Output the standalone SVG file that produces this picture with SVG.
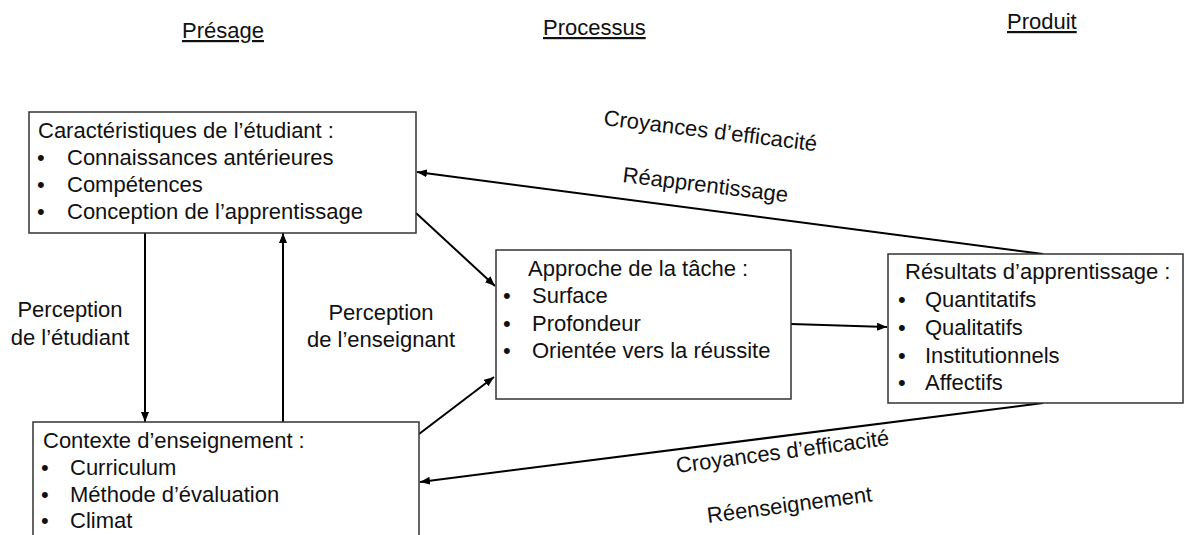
<svg xmlns="http://www.w3.org/2000/svg" width="1186" height="535" viewBox="0 0 1186 535">
<style>
text{font-family:"Liberation Sans",Arial,sans-serif;font-size:22px;fill:#111}
.box{fill:#fff;stroke:#333;stroke-width:1.5}
.head{text-decoration:underline}
.conn{stroke:#000;stroke-width:2;fill:none}
</style>
<defs>
<marker id="arr" markerUnits="userSpaceOnUse" markerWidth="10" markerHeight="8" refX="10" refY="4" orient="auto">
<path d="M0,0 L10,4 L0,8 z" fill="#000"/>
</marker>
</defs>
<rect width="1186" height="535" fill="#fff"/>
<g id="headings">
<text class="head" x="182" y="38">Présage</text>
<text class="head" x="543" y="35">Processus</text>
<text class="head" x="1007" y="29">Produit</text>
</g>
<g id="connectors">
<line class="conn" x1="145" y1="233" x2="145" y2="422" marker-end="url(#arr)"/>
<line class="conn" x1="283" y1="422" x2="283" y2="233" marker-end="url(#arr)"/>
<line class="conn" x1="416" y1="213" x2="495" y2="286" marker-end="url(#arr)"/>
<line class="conn" x1="419" y1="434" x2="494" y2="377" marker-end="url(#arr)"/>
<line class="conn" x1="791" y1="324" x2="887" y2="327" marker-end="url(#arr)"/>
<line class="conn" x1="1043" y1="254" x2="417" y2="172" marker-end="url(#arr)"/>
<line class="conn" x1="1043" y1="403" x2="420" y2="482" marker-end="url(#arr)"/>
<text transform="translate(603,125) rotate(7)">Croyances d’efficacité</text>
<text transform="translate(622,182) rotate(7)">Réapprentissage</text>
<text transform="translate(677,473) rotate(-7.5)">Croyances d’efficacité</text>
<text transform="translate(708,523) rotate(-7.5)">Réenseignement</text>
<text x="70" y="317" text-anchor="middle">Perception</text>
<text x="70" y="345" text-anchor="middle">de l’étudiant</text>
<text x="381" y="320" text-anchor="middle">Perception</text>
<text x="381" y="347" text-anchor="middle">de l’enseignant</text>
</g>
<g id="etudiant">
<rect class="box" x="29" y="112" width="387" height="121"/>
<text x="38" y="138">Caractéristiques de l’étudiant :</text>
<text x="37" y="165">•</text><text x="67" y="165">Connaissances antérieures</text>
<text x="37" y="192">•</text><text x="67" y="192">Compétences</text>
<text x="37" y="219">•</text><text x="67" y="219">Conception de l’apprentissage</text>
</g>
<g id="contexte">
<rect class="box" x="33" y="422" width="386" height="130"/>
<text x="43" y="448">Contexte d’enseignement :</text>
<text x="41" y="475">•</text><text x="70" y="475">Curriculum</text>
<text x="41" y="502">•</text><text x="70" y="502">Méthode d’évaluation</text>
<text x="41" y="528">•</text><text x="70" y="528">Climat</text>
</g>
<g id="approche">
<rect class="box" x="496" y="250" width="295" height="149"/>
<text x="528" y="276">Approche de la tâche :</text>
<text x="503" y="303">•</text><text x="532" y="303">Surface</text>
<text x="503" y="331">•</text><text x="532" y="331">Profondeur</text>
<text x="503" y="358">•</text><text x="532" y="358">Orientée vers la réussite</text>
</g>
<g id="resultats">
<rect class="box" x="888" y="254" width="295" height="149"/>
<text x="905" y="279">Résultats d’apprentissage :</text>
<text x="898" y="307">•</text><text x="925" y="307">Quantitatifs</text>
<text x="898" y="335">•</text><text x="925" y="335">Qualitatifs</text>
<text x="898" y="363">•</text><text x="925" y="363">Institutionnels</text>
<text x="898" y="390">•</text><text x="925" y="390">Affectifs</text>
</g>
</svg>
